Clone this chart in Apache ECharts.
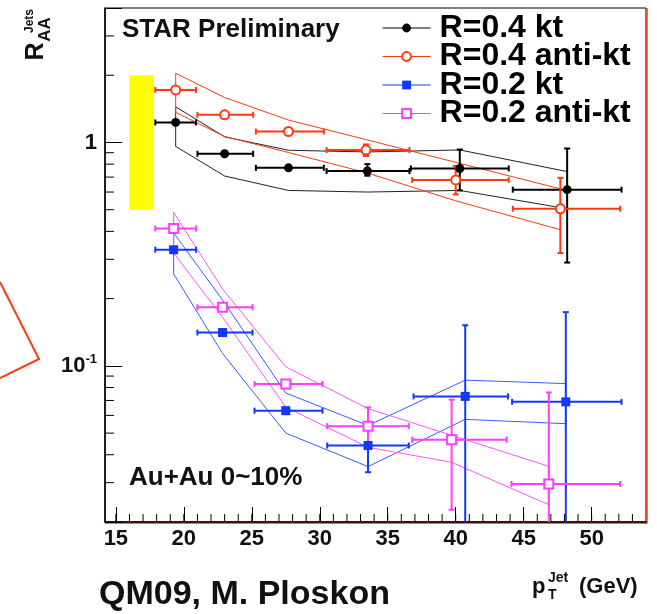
<!DOCTYPE html>
<html>
<head>
<meta charset="utf-8">
<script src="https://cdn.jsdelivr.net/npm/echarts@6/dist/echarts.min.js"></script>
<style>
html, body { margin: 0; padding: 0; background: #fff; }
#main { width: 657px; height: 614px; }
</style>
</head>
<body>
<div id="main"></div>
<script>
// axis ranges
var X_MIN = 14.2, X_MAX = 54, Y_MIN = 0.02, Y_MAX = 4;
var xMajorTicks = [15, 20, 25, 30, 35, 40, 45, 50];
var xMinorTicks = [15, 16, 17, 18, 19, 20, 21, 22, 23, 24, 25, 26, 27, 28, 29, 30, 31, 32, 33, 34,
    35, 36, 37, 38, 39, 40, 41, 42, 43, 44, 45, 46, 47, 48, 49, 50, 51, 52, 53];
var yMinorTicks = [0.02, 0.03, 0.04, 0.05, 0.06, 0.07, 0.08, 0.09, 0.2, 0.3, 0.4, 0.5, 0.6, 0.7, 0.8, 0.9, 2, 3];

// normalisation uncertainty box
var normBox = [16.0, 17.8, 0.5, 2.0];

// R=0.4 kt
var ktR4X = [19.4, 23.0, 27.7, 33.5, 40.3, 48.2];
var ktR4Y = [1.23, 0.89, 0.77, 0.745, 0.765, 0.615];
var ktR4XLo = [17.9, 21.0, 25.3, 30.5, 36.7, 44.2];
var ktR4XHi = [20.9, 25.1, 30.3, 36.6, 43.9, 52.2];
var ktR4YLo = [1.23, 0.89, 0.77, 0.71, 0.61, 0.29];
var ktR4YHi = [1.23, 0.89, 0.77, 0.80, 0.93, 0.94];
var ktR4SysHi = [1.445, 1.06, 0.923, 0.907, 0.926, 0.741];
var ktR4SysLo = [0.96, 0.708, 0.61, 0.60, 0.61, 0.505];

// R=0.4 anti-kt
var akR4X = [19.4, 23.0, 27.7, 33.4, 40.0, 47.7];
var akR4Y = [1.72, 1.33, 1.12, 0.925, 0.68, 0.505];
var akR4XLo = [17.9, 21.0, 25.3, 30.5, 36.8, 44.2];
var akR4XHi = [20.9, 25.1, 30.3, 36.6, 43.9, 52.1];
var akR4YLo = [1.72, 1.33, 1.12, 0.87, 0.585, 0.32];
var akR4YHi = [1.72, 1.33, 1.12, 0.98, 0.785, 0.695];
var akR4SysHi = [2.04, 1.59, 1.26, 1.03, 0.815, 0.62];
var akR4SysLo = [1.364, 1.064, 0.902, 0.733, 0.548, 0.407];

// R=0.2 kt
var ktR2X = [19.25, 22.85, 27.5, 33.55, 40.7, 48.1];
var ktR2Y = [0.331, 0.141, 0.063, 0.044, 0.073, 0.069];
var ktR2XLo = [17.9, 21.0, 25.2, 30.55, 36.9, 44.15];
var ktR2XHi = [20.9, 25.05, 30.2, 36.55, 43.85, 52.2];
var ktR2YLo = [0.331, 0.141, 0.063, 0.0334, 0.01, 0.01];
var ktR2YHi = [0.331, 0.141, 0.063, 0.0545, 0.152, 0.174];
var ktR2SysHi = [0.394, 0.197, 0.0756, 0.0541, 0.0863, 0.0833];
var ktR2SysLo = [0.258, 0.1137, 0.05, 0.0354, 0.0576, 0.0551];

// R=0.2 anti-kt
var akR2X = [19.25, 22.85, 27.5, 33.55, 39.7, 46.85];
var akR2Y = [0.412, 0.183, 0.083, 0.0537, 0.0467, 0.0296];
var akR2XLo = [17.9, 21.0, 25.2, 30.55, 36.8, 44.1];
var akR2XHi = [20.9, 25.05, 30.2, 36.55, 43.75, 52.1];
var akR2YLo = [0.412, 0.183, 0.083, 0.0432, 0.0227, 0.01];
var akR2YHi = [0.412, 0.183, 0.083, 0.0652, 0.0706, 0.076];
var akR2SysHi = [0.487, 0.2206, 0.099, 0.0643, 0.0489, 0.0355];
var akR2SysLo = [0.32, 0.165, 0.0654, 0.0432, 0.037, 0.0239];

var FONT = 'Liberation Sans';
var cBlack = '#000000', cRed = '#ff3a12', cBlue = '#1238ff', cPink = '#ff3cff';

function points(xs, ys) {
    var d = [];
    for (var i = 0; i < xs.length; i++) d.push([xs[i], ys[i]]);
    return d;
}

// closed outline: upper edge forward, lower edge back
function band(xs, hi, lo) {
    var d = [];
    for (var i = 0; i < xs.length; i++) d.push([xs[i], hi[i]]);
    for (var j = xs.length - 1; j >= 0; j--) d.push([xs[j], lo[j]]);
    d.push([xs[0], hi[0]]);
    return d;
}

function errData(xs, ys, xlo, xhi, ylo, yhi) {
    var d = [];
    for (var i = 0; i < xs.length; i++) d.push([xs[i], ys[i], xlo[i], xhi[i], ylo[i], yhi[i]]);
    return d;
}

function errRender(color) {
    return function (params, api) {
        var x = api.value(0), y = api.value(1);
        var l = api.coord([api.value(2), y]);
        var r = api.coord([api.value(3), y]);
        var st = { stroke: color, lineWidth: 2 };
        var ch = [
            { type: 'line', shape: { x1: l[0], y1: l[1], x2: r[0], y2: r[1] }, style: st },
            { type: 'line', shape: { x1: l[0], y1: l[1] - 3, x2: l[0], y2: l[1] + 3 }, style: st },
            { type: 'line', shape: { x1: r[0], y1: r[1] - 3, x2: r[0], y2: r[1] + 3 }, style: st }
        ];
        if (api.value(5) > api.value(4)) {
            var b = api.coord([x, api.value(4)]);
            var t = api.coord([x, api.value(5)]);
            ch.push({ type: 'line', shape: { x1: b[0], y1: b[1], x2: t[0], y2: t[1] }, style: st });
            ch.push({ type: 'line', shape: { x1: t[0] - 3, y1: t[1], x2: t[0] + 3, y2: t[1] }, style: st });
            ch.push({ type: 'line', shape: { x1: b[0] - 3, y1: b[1], x2: b[0] + 3, y2: b[1] }, style: st });
        }
        return { type: 'group', children: ch };
    };
}

function bandSeries(data, color) {
    return {
        type: 'line', data: data, symbol: 'none', z: 2, silent: true,
        lineStyle: { color: color, width: 1 }
    };
}

function errSeries(data, color) {
    return { type: 'custom', data: data, renderItem: errRender(color), clip: true, z: 3, silent: true };
}

function pointSeries(name, data, symbol, color) {
    return {
        name: name, type: 'line', data: data, symbol: symbol, symbolSize: 9, z: 4,
        itemStyle: { color: color, borderWidth: 1.5 },
        lineStyle: { color: color, opacity: 0 }
    };
}

var chart = echarts.init(document.getElementById('main'));

var option = {
    animation: false,
    backgroundColor: '#fff',
    grid: { left: 105, right: 11, top: 8, bottom: 92, show: true, borderColor: '#000', borderWidth: 1 },
    xAxis: {
        type: 'value', min: X_MIN, max: X_MAX,
        axisLine: { lineStyle: { color: '#000', width: 1.5 } },
        axisTick: { inside: true, length: 15, customValues: xMajorTicks, lineStyle: { color: '#000' } },
        axisLabel: {
            customValues: xMajorTicks, margin: 6, color: '#111',
            fontSize: 22, fontWeight: 'bold', fontFamily: FONT
        },
        splitLine: { show: false }
    },
    yAxis: {
        type: 'log', min: Y_MIN, max: Y_MAX, logBase: 10,
        axisLine: { lineStyle: { color: '#000', width: 1.5 } },
        axisTick: { inside: true, length: 17, lineStyle: { color: '#000' } },
        axisLabel: {
            margin: 8, color: '#111', fontSize: 22, fontWeight: 'bold', fontFamily: FONT,
            formatter: function (v) {
                if (Math.abs(v - 1) < 1e-6) return '{b|1}';
                if (Math.abs(v - 0.1) < 1e-7) return '{b|10}{s|-1}';
                return '';
            },
            rich: {
                b: { fontSize: 22, fontWeight: 'bold', fontFamily: FONT, color: '#111' },
                s: { fontSize: 13, fontWeight: 'bold', fontFamily: FONT, color: '#111', padding: [0, 0, 12, 0] }
            }
        },
        splitLine: { show: false }
    },
    legend: {
        data: [
            { name: 'R=0.4 kt', lineStyle: { opacity: 1, width: 1.2 } },
            { name: 'R=0.4 anti-kt', lineStyle: { opacity: 1, width: 1.2 } },
            { name: 'R=0.2 kt', lineStyle: { opacity: 1, width: 1.2 } },
            { name: 'R=0.2 anti-kt', lineStyle: { opacity: 1, width: 1.2 } }
        ],
        orient: 'vertical', left: 382, top: 12, padding: 0,
        itemWidth: 48, itemHeight: 11, itemGap: -3.5,
        textStyle: {
            fontSize: 32, fontWeight: 'bold', fontFamily: FONT, color: '#000',
            lineHeight: 28.5, padding: [0, 0, 0, 4]
        }
    },
    graphic: [
        { type: 'text', left: 122, top: 17, style: { text: 'STAR Preliminary', font: 'bold 26px "Liberation Sans"', fill: '#111' } },
        { type: 'text', left: 129, top: 465, style: { text: 'Au+Au 0~10%', font: 'bold 26px "Liberation Sans"', fill: '#111' } },
        { type: 'text', left: 99, top: 578, style: { text: 'QM09, M. Ploskon', font: 'bold 34px "Liberation Sans"', fill: '#111' } },
        { type: 'text', x: 36, y: 51.5, rotation: Math.PI / 2, style: { text: 'R', font: 'bold 25px "Liberation Sans"', fill: '#111', align: 'center', verticalAlign: 'middle' } },
        { type: 'text', x: 30, y: 21, rotation: Math.PI / 2, style: { text: 'Jets', font: 'bold 12px "Liberation Sans"', fill: '#111', align: 'center', verticalAlign: 'middle' } },
        { type: 'text', x: 45.5, y: 29.5, rotation: Math.PI / 2, style: { text: 'AA', font: 'bold 17px "Liberation Sans"', fill: '#111', align: 'center', verticalAlign: 'middle' } },
        { type: 'text', x: 532, y: 587, style: { text: 'p', font: 'bold 22px "Liberation Sans"', fill: '#111', verticalAlign: 'middle' } },
        { type: 'text', x: 548, y: 578, style: { text: 'Jet', font: 'bold 14px "Liberation Sans"', fill: '#111', verticalAlign: 'middle' } },
        { type: 'text', x: 548, y: 595, style: { text: 'T', font: 'bold 14px "Liberation Sans"', fill: '#111', verticalAlign: 'middle' } },
        { type: 'text', x: 579, y: 587, style: { text: '(GeV)', font: 'bold 22px "Liberation Sans"', fill: '#111', verticalAlign: 'middle' } },
        { type: 'polyline', shape: { points: [[105, 523], [647, 523], [647, 8]] }, style: { stroke: cRed, lineWidth: 1.5, fill: null } },
        { type: 'polyline', shape: { points: [[0, 282], [39, 359], [0, 378]] }, style: { stroke: cRed, lineWidth: 2, fill: null } }
    ],
    series: [
        {
            type: 'custom', data: [normBox], silent: true, z: 1,
            renderItem: function (params, api) {
                var a = api.coord([api.value(0), api.value(3)]);
                var b = api.coord([api.value(1), api.value(2)]);
                return { type: 'rect', shape: { x: a[0], y: a[1], width: b[0] - a[0], height: b[1] - a[1] }, style: { fill: '#ffff00' } };
            }
        },
        {
            type: 'custom', silent: true, z: 5,
            data: yMinorTicks.map(function (v) { return [X_MIN, v]; }),
            renderItem: function (params, api) {
                var p = api.coord([api.value(0), api.value(1)]);
                return { type: 'line', shape: { x1: p[0], y1: p[1], x2: p[0] + 9, y2: p[1] }, style: { stroke: '#000', lineWidth: 1 } };
            }
        },
        {
            type: 'custom', silent: true, z: 5,
            data: xMinorTicks.map(function (v) { return [v, Y_MIN]; }),
            renderItem: function (params, api) {
                var p = api.coord([api.value(0), api.value(1)]);
                return { type: 'line', shape: { x1: p[0], y1: p[1], x2: p[0], y2: p[1] - 8 }, style: { stroke: '#000', lineWidth: 1 } };
            }
        },
        bandSeries(band(ktR4X, ktR4SysHi, ktR4SysLo), '#222'),
        bandSeries(band(akR4X, akR4SysHi, akR4SysLo), cRed),
        bandSeries(band(ktR2X, ktR2SysHi, ktR2SysLo), '#3a5cff'),
        bandSeries(band(akR2X, akR2SysHi, akR2SysLo), '#ff55ff'),
        errSeries(errData(ktR4X, ktR4Y, ktR4XLo, ktR4XHi, ktR4YLo, ktR4YHi), cBlack),
        errSeries(errData(akR4X, akR4Y, akR4XLo, akR4XHi, akR4YLo, akR4YHi), cRed),
        errSeries(errData(ktR2X, ktR2Y, ktR2XLo, ktR2XHi, ktR2YLo, ktR2YHi), cBlue),
        errSeries(errData(akR2X, akR2Y, akR2XLo, akR2XHi, akR2YLo, akR2YHi), cPink),
        pointSeries('R=0.4 kt', points(ktR4X, ktR4Y), 'circle', cBlack),
        pointSeries('R=0.4 anti-kt', points(akR4X, akR4Y), 'emptyCircle', cRed),
        pointSeries('R=0.2 kt', points(ktR2X, ktR2Y), 'rect', cBlue),
        pointSeries('R=0.2 anti-kt', points(akR2X, akR2Y), 'emptyRect', cPink)
    ]
};

chart.setOption(option);
</script>
</body>
</html>
